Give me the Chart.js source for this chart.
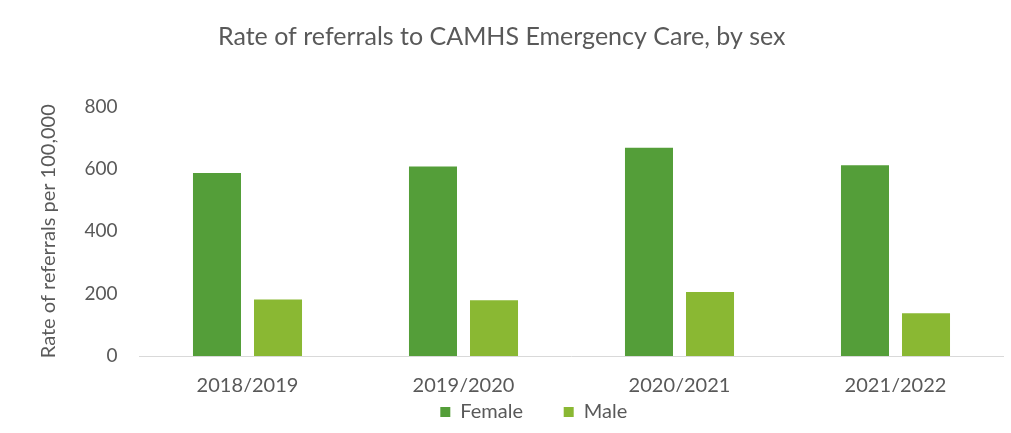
<!DOCTYPE html>
<html>
<head>
<meta charset="utf-8">
<script src="https://cdn.jsdelivr.net/npm/chart.js@4"></script>
<style>
  html, body { margin: 0; padding: 0; background: #fff; }
  #wrap { width: 1011px; height: 433px; }
</style>
</head>
<body>
<div id="wrap"><canvas id="chart" width="1011" height="433"></canvas></div>
<script>
// referral rates per 100,000, by year and sex
let years = ["2018/2019", "2019/2020", "2020/2021", "2021/2022"];
let female = [587, 608, 668, 612];
let male = [181, 179, 205, 137];
let yTicks = [0, 200, 400, 600, 800];

let grey = "#595959";
let font = "Lato, 'Open Sans', sans-serif";

// nudge the legend a little right of the canvas centre
let legendShift = {
  id: "legendShift",
  afterLayout(c) { c.legend.left += 64; }
};

let chart = new Chart(document.getElementById("chart"), {
  type: "bar",
  data: {
    labels: years,
    datasets: [
      { label: "Female", data: female, backgroundColor: "#549E39" },
      { label: "Male", data: male, backgroundColor: "#8AB833" }
    ]
  },
  plugins: [legendShift],
  options: {
    responsive: false,
    animation: false,
    devicePixelRatio: 1,
    categoryPercentage: 0.565,
    barPercentage: 0.787,
    layout: { padding: { left: 0, right: 7.5, top: 0, bottom: 1 } },
    plugins: {
      title: {
        display: true,
        text: "Rate of referrals to CAMHS Emergency Care, by sex",
        color: grey,
        font: { family: font, size: 25, weight: "normal" },
        padding: { top: 22, bottom: 54.5 }
      },
      legend: {
        position: "bottom",
        labels: {
          color: grey,
          font: { family: font, size: 20 },
          boxWidth: 10,
          boxHeight: 10,
          padding: 10,
          // wider gap after "Female"
          generateLabels: c => Chart.defaults.plugins.legend.labels.generateLabels(c)
            .map(l => l.text === "Female" ? { ...l, text: l.text + "      " } : l)
        }
      },
      tooltip: { enabled: false }
    },
    scales: {
      x: {
        afterFit: s => { s.height = 36; },
        grid: { display: false, drawTicks: false },
        border: { color: "#d9d9d9" },
        ticks: { color: grey, font: { family: font, size: 20 }, padding: 18 }
      },
      y: {
        min: 0,
        max: 800,
        afterFit: s => { s.width = 139.5; },
        afterBuildTicks: s => { s.ticks = yTicks.map(v => ({ value: v })); },
        grid: { display: false, drawTicks: false },
        border: { display: false },
        ticks: { color: grey, font: { family: font, size: 19 }, padding: 22 },
        title: {
          display: true,
          text: "Rate of referrals per 100,000",
          color: grey,
          font: { family: font, size: 20 },
          padding: { top: 37, bottom: 0 }
        }
      }
    }
  }
});
</script>
</body>
</html>
